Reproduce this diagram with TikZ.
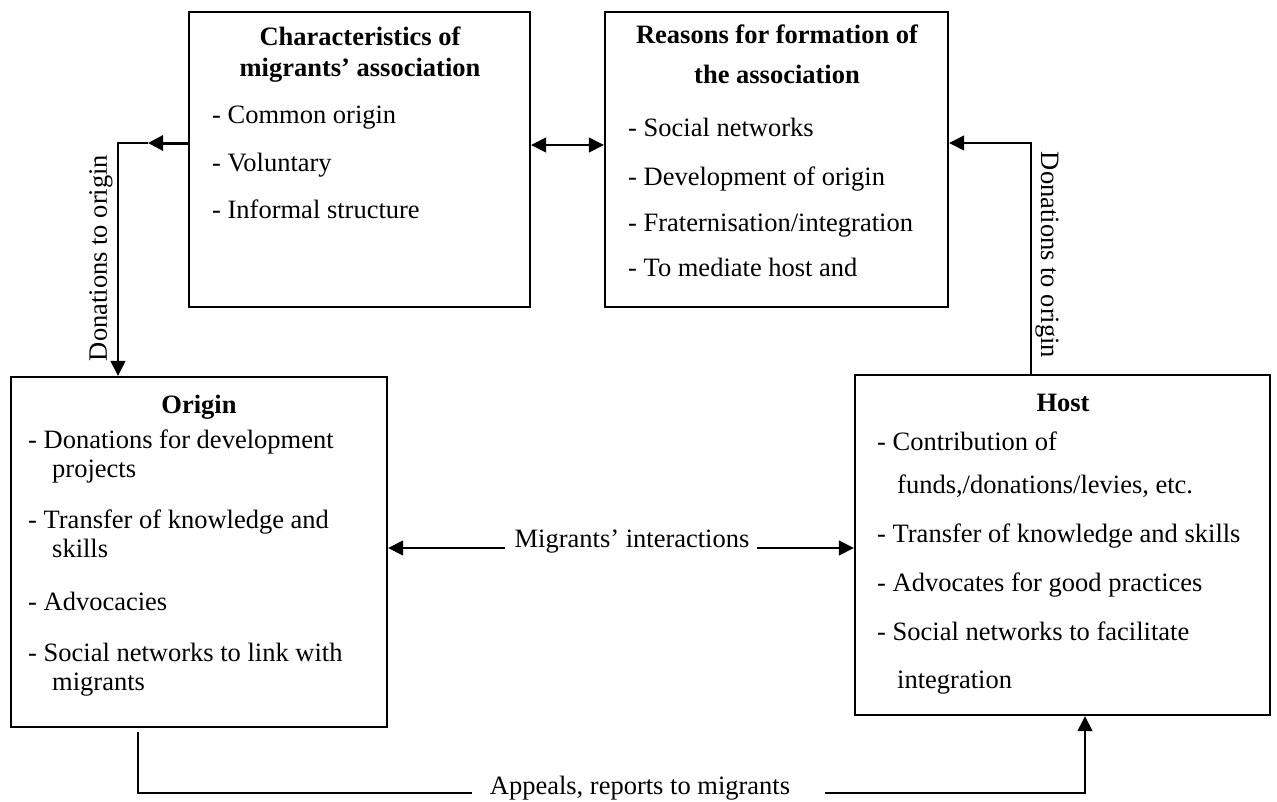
\documentclass[tikz,border=0pt]{standalone}
\usepackage{fontspec}
\setmainfont{Liberation Serif}
\usetikzlibrary{arrows.meta}
\begin{document}
\begin{tikzpicture}[x=1pt,y=-1pt,
  box/.style={draw,line width=2.4pt,rectangle,inner sep=0pt},
  ttl/.style={font=\fontsize{26.5}{30}\selectfont\bfseries,anchor=base,inner sep=0pt},
  itm/.style={font=\fontsize{26.5}{30}\selectfont,anchor=base west,inner sep=0pt},
  lbl/.style={font=\fontsize{26.5}{30}\selectfont,inner sep=0pt},
  con/.style={line width=1.5pt},
  tip/.style={-{Triangle[length=15pt,width=15pt]}},
  tips/.style={{Triangle[length=15pt,width=15pt]}-{Triangle[length=15pt,width=15pt]}}]
\useasboundingbox (0,0) rectangle (1277,801);

% boxes
\node[box,minimum width=341pt,minimum height=295pt] (char) at (359.5,159.5) {};
\node[box,minimum width=343pt,minimum height=295pt] (reas) at (776.5,159.5) {};
\node[box,minimum width=376pt,minimum height=350pt] (origin) at (199,552) {};
\node[box,minimum width=415pt,minimum height=340pt] (host) at (1062.5,545) {};

% characteristics
\node[ttl] (c1) at (360,45) {Characteristics of};
\node[ttl] (c2) at (360,76) {migrants’ association};
\node[itm] (c3) at (212,123) {- Common origin};
\node[itm] (c4) at (212,171) {- Voluntary};
\node[itm] (c5) at (212,218) {- Informal structure};

% reasons
\node[ttl] (r1) at (777,43) {Reasons for formation of};
\node[ttl] (r2) at (777,83) {the association};
\node[itm] (r3) at (628,136) {- Social networks};
\node[itm] (r4) at (628,185) {- Development of origin};
\node[itm] (r5) at (628,231) {- Fraternisation/integration};
\node[itm] (r6) at (628,276) {- To mediate host and};

% origin
\node[ttl] (o0) at (199,413) {Origin};
\node[itm] (o1) at (28,448) {- Donations for development};
\node[itm] (o2) at (52,477) {projects};
\node[itm] (o3) at (28,528) {- Transfer of knowledge and};
\node[itm] (o4) at (52,557) {skills};
\node[itm] (o5) at (28,610) {- Advocacies};
\node[itm] (o6) at (28,661) {- Social networks to link with};
\node[itm] (o7) at (52,690) {migrants};

% host
\node[ttl] (h0) at (1063,411) {Host};
\node[itm] (h1) at (877,450) {- Contribution of};
\node[itm] (h2) at (897,493) {funds,/donations/levies, etc.};
\node[itm] (h3) at (877,542) {- Transfer of knowledge and skills};
\node[itm] (h4) at (877,591) {- Advocates for good practices};
\node[itm] (h5) at (877,640) {- Social networks to facilitate};
\node[itm] (h6) at (897,688) {integration};

% left connector: characteristics -> origin
\coordinate (yA) at (0,143);
\coordinate (kL) at (148,143);
\coordinate (kL2) at (118,143);
\draw[line width=3pt,tip] (char.west |- yA) -- (kL);
\draw[con,tip] (kL) -- (kL2) -- (kL2 |- origin.north);
\node[lbl,rotate=90] (dl) at (101,258) {Donations to origin};

% double arrow between top boxes
\coordinate (yB) at (0,145);
\draw[con,tips] (char.east |- yB) -- (reas.west |- yB);

% right connector: host -> reasons
\coordinate (kR) at (1031,143);
\draw[con,tip] (kR |- host.north) -- (kR) -- (reas.east |- kR);
\node[lbl,rotate=-90] (dr) at (1047,255) {Donations to origin};

% migrants' interactions
\node[lbl] (mi) at (632,542) {Migrants’ interactions};
\coordinate (mL) at (505,548);
\coordinate (mR) at (757,548);
\draw[con,tip] (mL) -- (origin.east |- mL);
\draw[con,tip] (mR) -- (host.west |- mR);

% appeals
\node[lbl] (ap) at (640,788) {Appeals, reports to migrants};
\coordinate (bL) at (138,793);
\coordinate (bR) at (1085,793);
\coordinate (aL) at (472,793);
\coordinate (aR) at (825,793);
\draw[con] (origin.south -| bL) ++(0,4) -- (bL) -- (aL);
\draw[con,tip] (aR) -- (bR) -- (bR |- host.south);
\end{tikzpicture}
\end{document}
